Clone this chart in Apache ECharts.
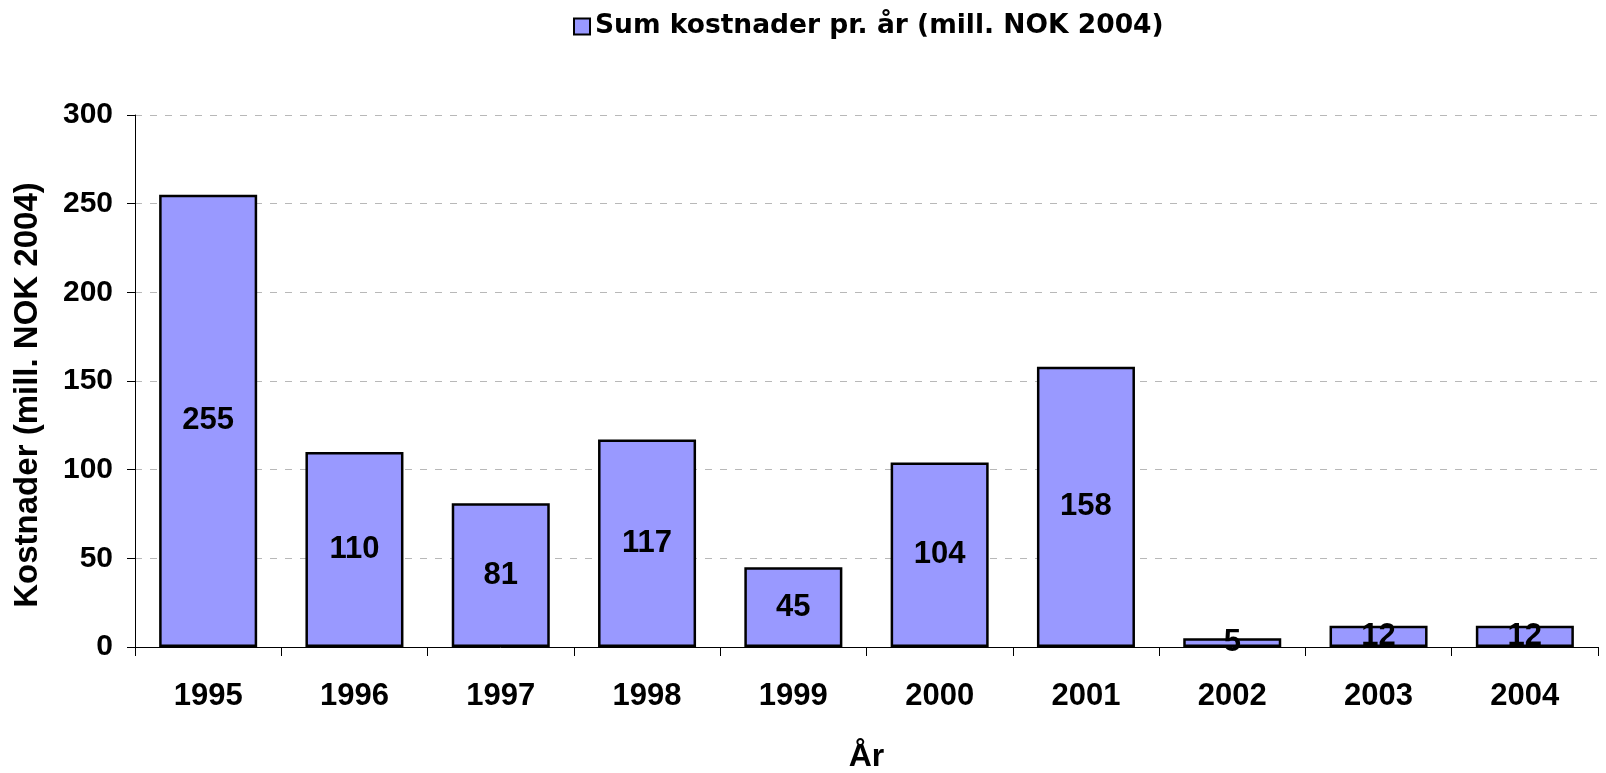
<!DOCTYPE html>
<html>
<head>
<meta charset="utf-8">
<script src="https://cdn.jsdelivr.net/npm/echarts@6/dist/echarts.min.js"></script>
<style>
  html, body { margin: 0; padding: 0; background: #fff; }
  #chart { width: 1606px; height: 773px; }
</style>
</head>
<body>
<div id="chart"></div>
<script>
"use strict";
var years = ['1995', '1996', '1997', '1998', '1999', '2000', '2001', '2002', '2003', '2004'];
var kostnader = [255, 110, 81, 117, 45, 104, 158, 5, 12, 12];
var seriesName = 'Sum kostnader pr. år (mill. NOK 2004)';

var font = 'Liberation Sans, Arial, sans-serif';

echarts.init(document.getElementById('chart'))
.setOption({
  backgroundColor: '#fff',
  animation: false,
  textStyle: {
    fontFamily: font,
    color: '#000'
  },
  legend: {
    data: [seriesName],
    icon: 'rect',
    top: 8,
    left: 568,
    itemWidth: 16,
    itemHeight: 16,
    itemGap: 12,
    textStyle: {
      fontFamily: 'DejaVu Sans',
      fontSize: 26.5,
      fontWeight: 'bold',
      color: '#000'
    }
  },
  grid: {
    left: 135,
    right: 8,
    top: 115,
    bottom: 126,
    outerBoundsMode: 'none',
    containLabel: false
  },
  xAxis: {
    type: 'category',
    data: years,
    name: 'År',
    nameLocation: 'middle',
    nameGap: 94,
    nameTextStyle: {
      fontSize: 32,
      fontWeight: 'bold'
    },
    axisLine: { lineStyle: { color: '#000', width: 1 } },
    axisTick: { show: true, length: 9, lineStyle: { color: '#000' } },
    axisLabel: {
      fontSize: 31,
      fontWeight: 'bold',
      color: '#000',
      margin: 34
    }
  },
  yAxis: {
    type: 'value',
    min: 0,
    max: 300,
    interval: 50,
    name: 'Kostnader (mill. NOK 2004)',
    nameLocation: 'middle',
    nameGap: 91,
    nameTextStyle: {
      fontSize: 33,
      fontWeight: 'bold',
      padding: [0, 28, 0, 0]
    },
    axisLine: { show: true, lineStyle: { color: '#000', width: 1 } },
    axisTick: { show: true, length: 8, lineStyle: { color: '#000' } },
    axisLabel: {
      fontSize: 30,
      fontWeight: 'bold',
      color: '#000',
      margin: 22
    },
    splitLine: {
      lineStyle: { color: '#b8b8b8', type: [7, 8], width: 1 }
    }
  },
  series: [
    {
      name: seriesName,
      type: 'bar',
      data: kostnader,
      barCategoryGap: '33%',
      itemStyle: {
        color: '#9999FF',
        borderColor: '#000',
        borderWidth: 2.5
      },
      label: {
        show: true,
        position: 'inside',
        fontSize: 31,
        fontWeight: 'bold',
        color: '#000'
      }
    }
  ]
});
</script>
</body>
</html>
